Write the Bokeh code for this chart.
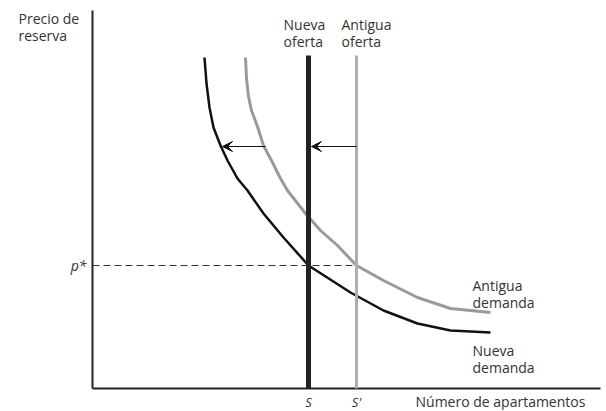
from bokeh.plotting import figure
from bokeh.models import Arrow, VeeHead, Range1d
from bokeh.core.properties import value
from bokeh.embed import file_html
from bokeh.resources import INLINE

# Data (arbitrary units: quantity on x, reservation price on y)
s_new = 216          # Nueva oferta (S)
s_old = 264          # Antigua oferta (S')
p_star = 123         # equilibrium price p*
supply_top = 333
axis_x_end = 508
axis_y_end = 378

new_dem_x = [112, 114, 117, 121, 128, 135, 145, 155, 171, 191, 216, 258, 291, 325, 358, 398]
new_dem_y = [331, 305, 281, 261, 243, 228, 210, 198, 175, 151, 123, 96, 78, 65, 58, 56]
old_dem_x = [153, 154, 156, 159, 165, 171, 180, 188, 195, 213, 228, 245, 264, 291, 325, 358, 398]
old_dem_y = [331, 310, 292, 278, 262, 243, 226, 210, 198, 175, 158, 143, 123, 108, 91, 80, 76]

shift_y = 242
arrow_dem = (173, 130)
arrow_sup = (s_old, s_new + 3)

FONT = "Open Sans"
TXT = "#333333"

p = figure(width=604, height=410, output_backend="svg", toolbar_location=None,
           x_range=Range1d(-92, 512), y_range=Range1d(-22, 388),
           min_border=0, outline_line_color=None)
p.xaxis.visible = False
p.yaxis.visible = False
p.xgrid.visible = False
p.ygrid.visible = False

# axes
p.line([0, 0], [axis_y_end, 0], line_color="#222222", line_width=2)
p.line([0, axis_x_end], [0, 0], line_color="#222222", line_width=2)

# dashed p*
p.line([0, s_old], [p_star, p_star], line_color="#333333", line_width=1.2, line_dash="7 4")

# curves
p.line(old_dem_x, old_dem_y, line_color="#9a9a9a", line_width=3, line_join="round")
p.line(new_dem_x, new_dem_y, line_color="#111111", line_width=2.5, line_join="round")

# supply lines
p.line([s_old, s_old], [0, supply_top], line_color="#a7b0b3", line_width=3)
p.line([s_new, s_new], [0, supply_top], line_color="#222222", line_width=5)

# arrows
for (x0, x1) in (arrow_dem, arrow_sup):
    p.add_layout(Arrow(x_start=x0, y_start=shift_y, x_end=x1, y_end=shift_y,
                       line_color="#111111", line_width=1.2,
                       end=VeeHead(size=10, fill_color="#111111", line_color="#111111")))

def txt(x, y, t, align="left", baseline="top", style="normal", size="14px"):
    p.text([x], [y], text=[t], text_font=value(FONT), text_font_size=size,
           text_color=TXT, text_align=align, text_baseline=baseline,
           text_font_style=style, text_line_height=0.9)

txt(-74, 380, "Precio de\nreserva")
txt(-6, p_star, "p*", align="right", baseline="middle", style="italic")
txt(s_new, -13, "S", align="center", baseline="middle", style="italic", size="13px")
txt(s_old, -13, "S'", align="center", baseline="middle", style="italic", size="13px")
txt(323, -13, "Número de apartamentos", baseline="middle")
txt(191, 374, "Nueva\noferta")
txt(249, 374, "Antigua\noferta")
txt(380, 113, "Antigua\ndemanda")
txt(380, 48, "Nueva\ndemanda")

open("out.html", "w").write(file_html(p, INLINE))
